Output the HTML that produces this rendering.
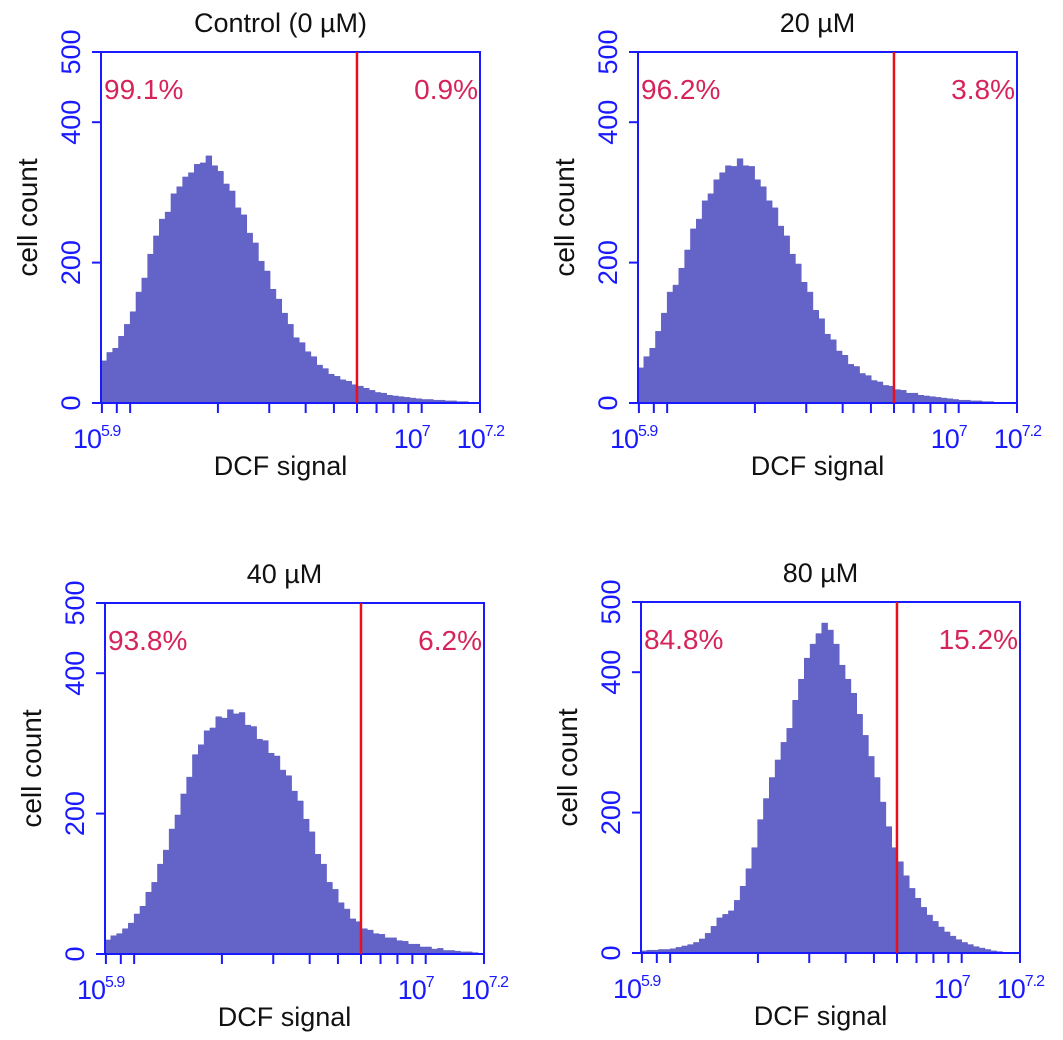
<!DOCTYPE html>
<html><head><meta charset="utf-8"><style>
body{margin:0;background:#fff;}
svg{display:block;font-family:"Liberation Sans",sans-serif;}
</style></head><body>
<svg id="chart" width="1063" height="1040" viewBox="0 0 1063 1040" xmlns="http://www.w3.org/2000/svg"></svg>
<script>
const titles = ["Control (0 µM)", "20 µM", "40 µM", "80 µM"];
const leftPct = ["99.1%", "96.2%", "93.8%", "84.8%"];
const rightPct = ["0.9%", "3.8%", "6.2%", "15.2%"];
const gateLog = 6.778;
const binStart = 5.9, binStep = 0.02;
const yTicks = [0, 200, 400, 500];
const countsControl = [60,72,78,95,112,130,158,178,212,238,262,272,298,308,322,328,340,342,352,338,330,312,302,278,268,242,228,202,188,162,148,128,112,93,86,73,66,54,49,41,38,33,31,26,24,21,18,15,14,11,10,9,8,7,6,5,5,4,4,3,3,2,2,0,0];
const counts20 = [50,66,78,102,128,158,168,192,218,248,262,288,298,318,328,338,337,348,338,337,318,308,288,278,252,238,212,198,172,158,132,120,98,90,74,68,55,52,42,39,32,30,25,24,19,18,14,14,11,10,9,8,7,6,5,4,4,3,3,2,2,1,1,0,0];
const counts40 = [20,26,29,36,44,57,68,88,102,128,148,178,198,228,252,284,298,318,322,338,336,348,342,344,326,324,306,304,286,282,262,254,232,218,192,174,142,128,102,92,73,64,50,46,36,34,29,28,23,23,19,18,14,14,10,10,7,8,5,5,4,3,3,2,1];
const counts80 = [3,4,4,5,5,6,8,10,12,15,20,28,38,50,55,60,75,95,120,150,190,220,250,275,300,320,360,390,420,440,455,470,460,440,410,390,370,340,310,280,250,215,180,150,130,110,92,78,65,54,45,37,30,24,19,15,12,9,7,5,3,2,1,0,0];
const allCounts = [countsControl, counts20, counts40, counts80];

const NS = "http://www.w3.org/2000/svg";
const svg = document.getElementById("chart");
const origins = [[101,52],[638,52],[105,603],[641,602]];
const W = 379, H = 351;
const AX = "#1a1aff";
function mk(tag, attrs, parent){const e=document.createElementNS(NS,tag);for(const k in attrs)e.setAttribute(k,attrs[k]);(parent||svg).appendChild(e);return e;}

for (let p=0;p<4;p++){
  const [ox,oy]=origins[p];
  const xS = v => ox + (v-5.9)/(7.2-5.9)*W;
  const yS = c => oy + H - c/500*H;
  const g = mk("g",{});
  
  
  const data = allCounts[p];
  let d = "M"+xS(binStart)+","+yS(0);
  for (let i=0;i<data.length;i++){
    const x0=xS(binStart+i*binStep), x1=xS(binStart+(i+1)*binStep);
    d += " L"+x0+","+yS(data[i])+" L"+x1+","+yS(data[i]);
  }
  d += " L"+xS(binStart+data.length*binStep)+","+yS(0)+" Z";
  const hist = mk("path",{d:d,fill:"#6464c8",stroke:"#5a5ac0","stroke-width":"0.5"},g);
  
  
  const box = mk("rect",{x:ox,y:oy,width:W,height:H,fill:"none",stroke:AX,"stroke-width":2},g);
  
  
  const gl = mk("line",{x1:xS(gateLog),x2:xS(gateLog),y1:oy,y2:oy+H,stroke:"#e8101a","stroke-width":2.5},g);
  
  
  for (const t of yTicks){
    mk("line",{x1:ox-9,x2:ox,y1:yS(t),y2:yS(t),stroke:AX,"stroke-width":2},g);
    let cy = Math.max(yS(t), oy-4);
    const tl = mk("text",{x:0,y:0,transform:"translate("+(ox-21)+","+cy+") rotate(-90)","text-anchor":"middle",fill:AX,"font-size":27},g);
    tl.textContent = t;
    
    
  }
  const tv=[];
  for (let k=8;k<=9;k++) tv.push(5+Math.log10(k));
  for (let k=1;k<=9;k++) tv.push(6+Math.log10(k));
  tv.push(7); tv.push(7.2);
  for (const v of tv){
    if (v<5.9-1e-6||v>7.2+1e-6) continue;
    mk("line",{x1:xS(v),x2:xS(v),y1:oy+H,y2:oy+H+10,stroke:AX,"stroke-width":2},g);
  }
  const xl = [[5.9,"5.9","start",-28],[7,"7","end",8],[7.2,"7.2","end",24]];
  for (const [v,ex,anc,dx] of xl){
    const t = mk("text",{x:xS(v)+dx,y:oy+H+45,fill:AX,"font-size":27,"text-anchor":anc,"letter-spacing":"-1"},g);
    
    
    const b=mk("tspan",{},t); b.textContent="10";
    const s=mk("tspan",{dy:-12,"font-size":16},t); s.textContent=ex;
  }
  const xt = mk("text",{x:ox+W/2-10,y:oy+H+72,"text-anchor":"middle","font-size":27,fill:"#111"},g);
  xt.textContent="DCF signal";
  
  
  const yt = mk("text",{x:0,y:0,transform:"translate("+(ox-64)+","+(oy+H/2-10)+") rotate(-90)","text-anchor":"middle","font-size":28,fill:"#111"},g);
  yt.textContent="cell count";
  
  
  const tt = mk("text",{x:ox+W/2-10,y:oy-20,"text-anchor":"middle","font-size":27,fill:"#111"},g);
  tt.textContent=titles[p];
  
  
  const lp = mk("text",{x:ox+3,y:oy+47,"font-size":28,fill:"#d6245a"},g);
  lp.textContent=leftPct[p];
  
  
  const rp = mk("text",{x:ox+W-2,y:oy+47,"font-size":28,fill:"#d6245a","text-anchor":"end"},g);
  rp.textContent=rightPct[p];
  
  
}
</script>
</body></html>
